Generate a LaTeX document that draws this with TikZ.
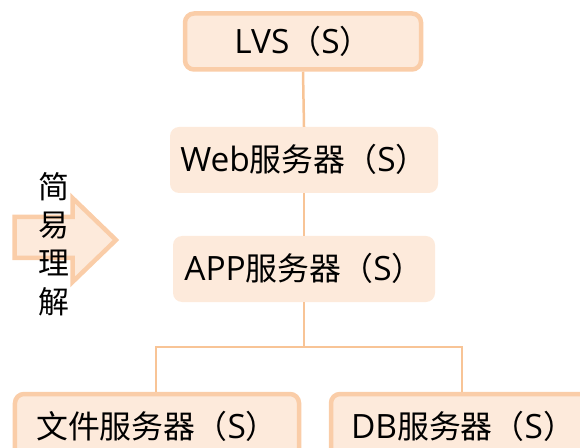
\documentclass[tikz,border=0pt]{standalone}
\usepackage{fontspec}
\setmainfont{Open Sans}[Scale=1.05]
\newfontfamily\cjkfont{Noto Sans CJK SC}
\newcommand{\zh}[1]{{\cjkfont #1}}
\definecolor{boxedge}{RGB}{250,205,168}
\definecolor{boxfill}{RGB}{253,234,219}
\definecolor{linkline}{RGB}{248,196,150}
\begin{document}
\begin{tikzpicture}[x=1bp,y=-1bp,
    server/.style={fill=boxfill, rounded corners=9bp, inner sep=0pt,
      text height=24bp, text depth=0bp, font=\fontsize{32}{38}\selectfont},
    edged/.style={draw=boxedge, line width=4.5bp},
    link/.style={draw=linkline, line width=2.5bp}]
  \useasboundingbox (0,0) rectangle (580,448);
  \clip (0,0) rectangle (580,448);
  % arrow on the left
  \draw[edged, fill=boxfill, line join=miter] (14.5,217) -- (72.5,217) -- (72.5,198) -- (116,240)
    -- (72.5,282) -- (72.5,258) -- (14.5,258) -- cycle;
  \node (hint) at (54,244) [align=center, font=\cjkfont\fontsize{31}{38.5}\selectfont] {简\\易\\理\\解};
  % servers
  \node (lvs) at (303,41.5) [server, edged, minimum width=236bp, minimum height=56bp] {LVS\zh{（}S\zh{）}};
  \node (web) at (304,160) [server, minimum width=268bp, minimum height=66bp] {Web\zh{服务器（}S\zh{）}};
  \node (app) at (304,269) [server, minimum width=262bp, minimum height=66bp] {APP\zh{服务器（}S\zh{）}};
  \node (file) at (157,426) [server, edged, minimum width=284bp, minimum height=64bp] {\zh{文件服务器（}S\zh{）}};
  \node (db) at (463,426) [server, edged, minimum width=264bp, minimum height=64bp] {DB\zh{服务器（}S\zh{）}};
  % links
  \coordinate (forkL) at (156,347);
  \coordinate (forkR) at (462,347);
  \draw[link] (lvs.south) -- (web.north);
  \draw[link] (web.south) -- (app.north);
  \draw[link] (app.south) -- (app.south |- forkL);
  \draw[link] (forkL |- file.north) -- (forkL) -- (forkR) -- (forkR |- db.north);
\end{tikzpicture}
\end{document}
